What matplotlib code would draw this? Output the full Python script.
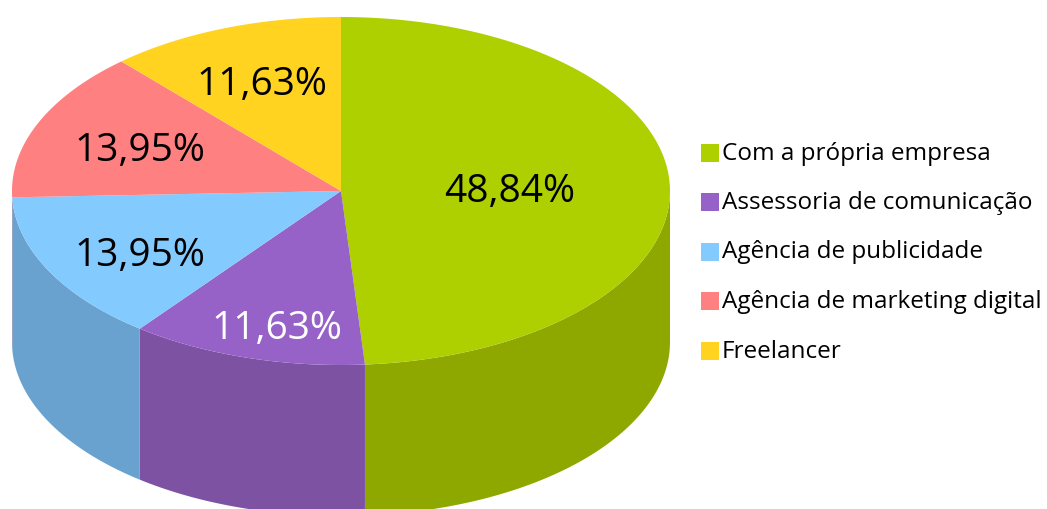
import numpy as np
import matplotlib
matplotlib.use("Agg")
import matplotlib.pyplot as plt
from matplotlib.patches import Rectangle

labels = ["Com a própria empresa", "Assessoria de comunicação", "Agência de publicidade",
          "Agência de marketing digital", "Freelancer"]
values = [48.84, 11.63, 13.95, 13.95, 11.63]
pct_text = ["48,84%", "11,63%", "13,95%", "13,95%", "11,63%"]
colors = ["#AECF00", "#9762C8", "#83CAFF", "#FF8080", "#FFD320"]
side_colors = ["#8FA800", "#7D52A3", "#69A2CF", "#D06A6A", "#D0AC1A"]
text_colors = ["black", "white", "black", "black", "black"]

W, H = 1047, 509
plt.rcParams["font.family"] = ["Open Sans", "DejaVu Sans"]

fig = plt.figure(figsize=(W / 100, H / 100), dpi=100)
ax = fig.add_axes([0, 0, 1, 1])

cx, cy, rx, ry, depth = 341, 191, 329, 174, 151

# slice edges, clockwise from the top
edges = 90 - 360 * np.cumsum([0] + values) / sum(values)

# side wall, only the front half of the cake shows
for i in range(len(values)):
    a0 = max(edges[i + 1], -180)
    a1 = min(edges[i], 0)
    if a0 >= a1:
        continue
    t = np.radians(np.linspace(a0, a1, 100))
    x = cx + rx * np.cos(t)
    y = cy - ry * np.sin(t)
    ax.fill(np.r_[x, x[::-1]], np.r_[y, y[::-1] + depth], color=side_colors[i], lw=0)

# top of the cake
for i in range(len(values)):
    t = np.radians(np.linspace(edges[i + 1], edges[i], 150))
    x = np.r_[cx, cx + rx * np.cos(t)]
    y = np.r_[cy, cy - ry * np.sin(t)]
    ax.fill(x, y, color=colors[i], lw=0)

# percent labels
lab_x = [510, 277, 140, 140, 262]
lab_y = [192, 329, 256, 151, 85]
for i in range(len(values)):
    ax.text(lab_x[i], lab_y[i], pct_text[i], color=text_colors[i], fontsize=28,
            ha="center", va="center")

# legend
leg_y = [152.5, 202, 251.5, 301, 351]
for i in range(len(labels)):
    ax.add_patch(Rectangle((701, leg_y[i] - 9), 17.5, 18, color=colors[i], lw=0))
    ax.text(722, leg_y[i] + 1, labels[i], fontsize=17.5, color="black", va="center", ha="left")

ax.set_xlim(0, W)
ax.set_ylim(H, 0)
ax.axis("off")
fig.savefig("out.png", dpi=100)
